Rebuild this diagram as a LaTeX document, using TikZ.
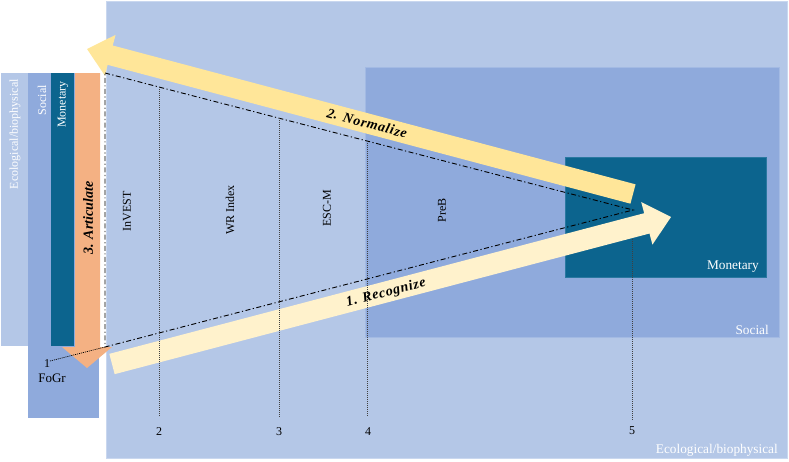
\documentclass[tikz,border=0pt]{standalone}
\usepackage{fontspec}
\setmainfont{Liberation Serif}
\usetikzlibrary{calc}
\definecolor{ecocol}{HTML}{B4C7E7}
\definecolor{ecoedge}{HTML}{C9D7EF}
\definecolor{soccol}{HTML}{8FAADC}
\definecolor{socedge}{HTML}{A3BAE3}
\definecolor{moncol}{HTML}{0C648E}
\definecolor{monedge}{HTML}{2A78A0}
\definecolor{orgcol}{HTML}{F4B183}
\definecolor{normcol}{HTML}{FFE699}
\definecolor{recocol}{HTML}{FFF2CC}
\begin{document}
\begin{tikzpicture}[x=1pt,y=-1pt,
  lbl/.style={font=\fontsize{12}{14}\selectfont, inner sep=0pt},
  wlbl/.style={lbl, text=white},
  rlbl/.style={font=\fontsize{13.3}{15}\selectfont, text=white, inner sep=0pt, anchor=base east},
  arrlbl/.style={font=\fontsize{14}{16}\selectfont\bfseries\itshape, inner sep=0pt},
  sparrlbl/.style={font=\fontsize{14}{16}\selectfont\bfseries\itshape\addfontfeature{LetterSpace=5}, inner sep=0pt},
  dashdot/.style={line width=0.9pt, dash pattern=on 5pt off 2.5pt on 1.2pt off 2.5pt},
  fdot/.style={line width=0.7pt, black!75, dash pattern=on 1pt off 1pt},
]
\useasboundingbox (0,0) rectangle (789,461);

% right nested rectangles
\filldraw[fill=ecocol, draw=ecoedge, line width=1pt] (106,1) rectangle (787,458);
\filldraw[fill=soccol, draw=socedge, line width=1pt] (365,67) rectangle (779,337);
\filldraw[fill=moncol, draw=monedge, line width=0.8pt] (565,157) rectangle (766,277);

% left stacked strips
\fill[ecocol] (1,73) rectangle (28,346);
\fill[soccol] (28,73) rectangle (99,418);
\fill[moncol] (51,73) rectangle (74,346);

% 3. Articulate arrow
\fill[orgcol] (75,73) -- (100,73) -- (100,347) -- (112,347) -- (87,368) -- (62,347) -- (75,347) -- cycle;

% 1. Recognize arrow
\coordinate (rT) at (112,364);
\coordinate (rP) at (671,217);
\coordinate (rB) at ($(rP)!25pt!(rT)$);
\fill[recocol] ($(rT)!10.5pt!90:(rP)$) -- ($(rB)!10.5pt!90:(rP)$) -- ($(rB)!22pt!90:(rP)$) -- (rP)
  -- ($(rB)!22pt!-90:(rP)$) -- ($(rB)!10.5pt!-90:(rP)$) -- ($(rT)!10.5pt!-90:(rP)$) -- cycle;

% 2. Normalize arrow
\coordinate (nT) at (633,194);
\coordinate (nP) at (87,49);
\coordinate (nB) at ($(nP)!24pt!(nT)$);
\fill[normcol] ($(nT)!10pt!90:(nP)$) -- ($(nB)!10pt!90:(nP)$) -- ($(nB)!21pt!90:(nP)$) -- (nP)
  -- ($(nB)!21pt!-90:(nP)$) -- ($(nB)!10pt!-90:(nP)$) -- ($(nT)!10pt!-90:(nP)$) -- cycle;

% triangle of dash-dot lines
\coordinate (tl) at (105,73);
\coordinate (bl) at (105,347);
\coordinate (apex) at (633,210);
\coordinate (p1) at (50,361);
\draw[dashdot] (tl) -- (apex) -- (bl) -- (tl);
\draw[fdot, black] (p1) -- (bl);

% labels
\node[lbl] (n1) at (47,364) {1};
\node[lbl, font=\fontsize{13}{15}\selectfont] (nF) at (52,378) {FoGr};
\node[lbl] (n2) at (159,432) {2};
\node[lbl] (n3) at (279,432) {3};
\node[lbl] (n4) at (368,432) {4};
\node[lbl] (n5) at (632,431) {5};

% vertical dotted lines
\coordinate (t2) at (159,87);  \coordinate (b2) at (159,417);
\coordinate (t3) at (279,118); \coordinate (b3) at (279,417);
\coordinate (t4) at (367,141); \coordinate (b4) at (367,417);
\coordinate (t5) at (632,239); \coordinate (b5) at (632,420);
\draw[fdot] (t2) -- (b2);
\draw[fdot] (t3) -- (b3);
\draw[fdot] (t4) -- (b4);
\draw[fdot] (t5) -- (b5);

% method labels
\node[lbl, rotate=90] (mInv) at (127,211) {InVEST};
\node[lbl, rotate=90] (mWR) at (230,210) {WR Index};
\node[lbl, rotate=90] (mESC) at (327,208) {ESC-M};
\node[lbl, rotate=90] (mPre) at (442,210) {PreB};

% arrow labels
\node[arrlbl, rotate=90] (aArt) at (88,218) {3. Articulate};
\node[sparrlbl, rotate=-14.9] (aNorm) at (367,123) {2. Normalize};
\node[sparrlbl, rotate=14.7] (aRec) at (386,293) {1. Recognize};

% left strip labels
\node[wlbl, rotate=90, anchor=east] (lEco) at (15,79) {Ecological/biophysical};
\node[wlbl, rotate=90, anchor=east] (lSoc) at (42,85) {Social};
\node[wlbl, rotate=90, anchor=east] (lMon) at (63,81) {Monetary};

% right rectangle labels
\node[rlbl] (rEco) at (778,453) {Ecological/biophysical};
\node[rlbl] (rSoc) at (769,334) {Social};
\node[rlbl] (rMon) at (759,269) {Monetary};
\end{tikzpicture}
\end{document}
